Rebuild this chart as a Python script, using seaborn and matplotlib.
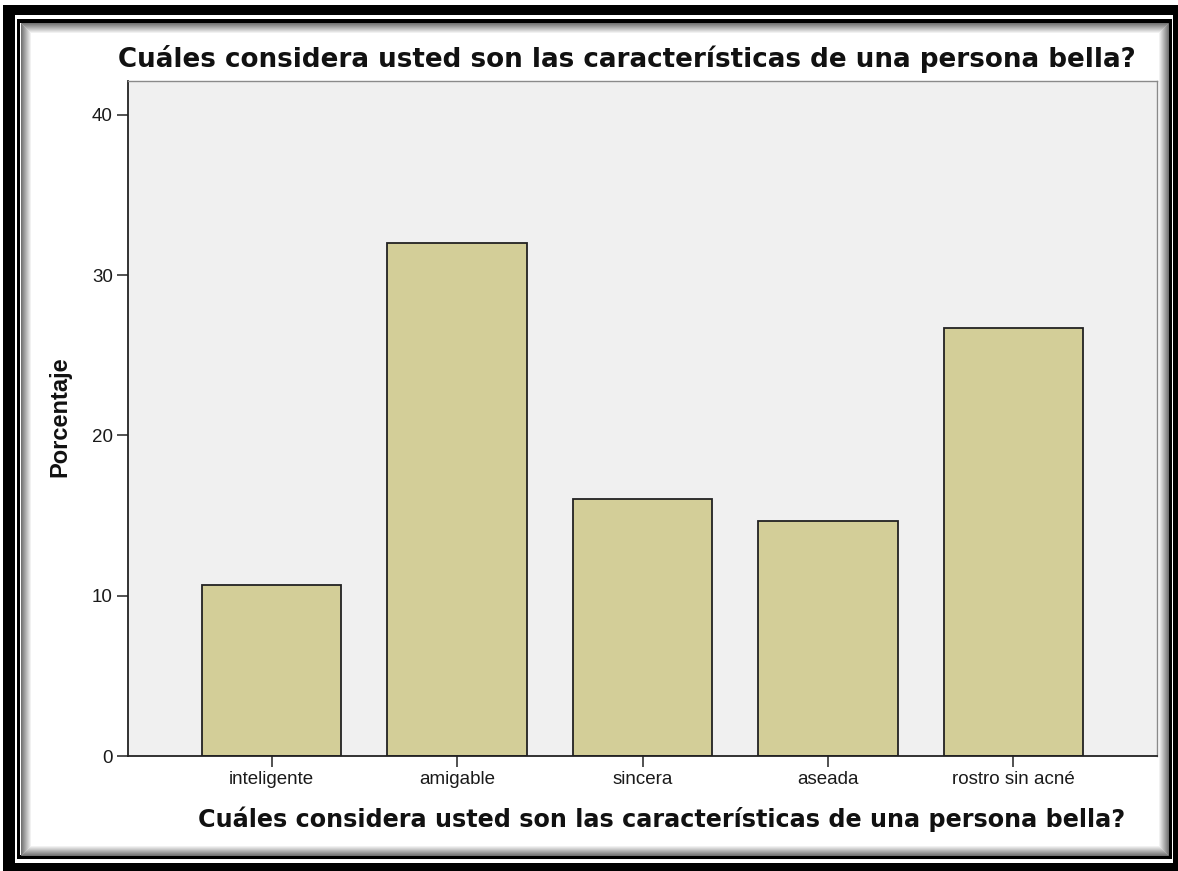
import matplotlib
matplotlib.use("Agg")
import matplotlib.pyplot as plt
from matplotlib.patches import Rectangle
import seaborn as sns
import pandas as pd

# Survey responses (percent of respondents)
categories = ["inteligente", "amigable", "sincera", "aseada", "rostro sin acné"]
percentages = [10.67, 32.0, 16.0, 14.67, 26.67]
y_ticks = [0, 10, 20, 30, 40]
title_text = "Cuáles considera usted son las características de una persona bella?"
y_label = "Porcentaje"

W, H = 1178, 871
sns.set_theme(style="white")
plt.rcParams["font.family"] = ["Liberation Sans", "DejaVu Sans"]

fig = plt.figure(figsize=(W / 100, H / 100), dpi=100)
fig.patch.set_facecolor("white")


def px_rect(x0, y0, x1, y1, **kw):
    """Rectangle given in pixel coordinates measured from the top-left corner."""
    return Rectangle((x0 / W, 1 - y1 / H), (x1 - x0) / W, (y1 - y0) / H,
                     transform=fig.transFigure, zorder=-10, **kw)


# Decorative double frame with a soft inner shadow
fig.add_artist(px_rect(3, 5, 1178, 871, facecolor="black", edgecolor="none", linewidth=0))
fig.add_artist(px_rect(15, 15, 1173, 863, facecolor="white", edgecolor="none", linewidth=0))
fig.add_artist(px_rect(17, 19, 1172, 859, facecolor="black", edgecolor="none", linewidth=0))
fig.add_artist(px_rect(20, 23, 1168, 855, facecolor="white", edgecolor="none", linewidth=0))
for i in range(10):
    g = 0.45 + i * 0.055
    fig.add_artist(px_rect(20.5 + i, 23.5 + i, 1167.5 - i, 854.5 - i,
                           facecolor="none", edgecolor=(g, g, g), linewidth=0.72))

ax = fig.add_axes([128 / W, 1 - 756 / H, (1157 - 128) / W, (756 - 81) / H])
ax.set_facecolor("#F0F0F0")

df = pd.DataFrame({"cat": categories, "pct": percentages})
sns.barplot(data=df, x="cat", y="pct", order=categories, color="#D3CE98",
            saturation=1, edgecolor="#222222", linewidth=1.3, width=0.75, ax=ax)

ax.set_xlim(-0.774, 4.774)
ax.set_ylim(0, 42.1)
ax.set_yticks(y_ticks)
ax.set_xlabel("")
ax.set_ylabel("")

for side in ("left", "bottom"):
    ax.spines[side].set_color("#222222")
    ax.spines[side].set_linewidth(1.3)
for side in ("top", "right"):
    ax.spines[side].set_color("#8a8a8a")
    ax.spines[side].set_linewidth(1.0)

ax.tick_params(axis="both", which="major", direction="out", length=8, width=1.2,
               color="#333333", labelsize=13.5, labelcolor="#1a1a1a", pad=3,
               left=True, bottom=True)

fig.text(627 / W, 1 - 67 / H, title_text, ha="center", va="baseline",
         fontsize=18.8, fontweight="bold", family=["DejaVu Sans"], color="#111111")
fig.text(662 / W, 1 - 827 / H, title_text, ha="center", va="baseline",
         fontsize=17.2, fontweight="bold", family=["DejaVu Sans"], color="#111111")
fig.text(60 / W, 1 - 417 / H, y_label, ha="center", va="center", rotation=90,
         fontsize=17, fontweight="bold", color="#111111")

fig.savefig("out.png", dpi=100)
